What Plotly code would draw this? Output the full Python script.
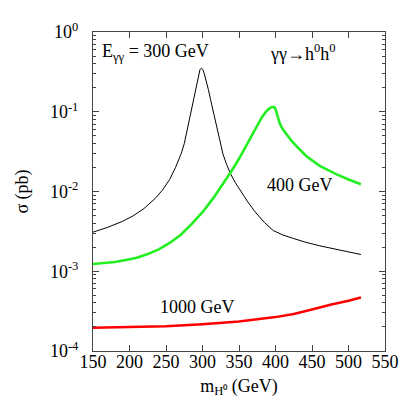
import plotly.graph_objects as go

# values as log10(sigma / pb)
# E_gamma-gamma = 300 GeV (black)
m_300 = [150, 170, 190, 205, 220, 235, 245, 255, 263, 271, 275, 278.5, 283.5, 286.5,
         289.5, 292.5, 294.5, 296.5, 298.5, 300.5, 302.5, 305, 308, 311, 314.5, 318.5,
         323, 328, 333, 338, 345, 353, 362, 372, 385, 397, 410, 425, 440, 460, 480,
         500, 517]
log_sig_300 = [-2.51, -2.45, -2.376, -2.305, -2.212, -2.089, -1.984, -1.85, -1.70,
               -1.52, -1.40, -1.25, -1.03, -0.896, -0.753, -0.612, -0.532, -0.473,
               -0.452, -0.47, -0.525, -0.60, -0.72, -0.845, -0.99, -1.16, -1.35,
               -1.53, -1.66, -1.77, -1.89, -2.01, -2.13, -2.255, -2.39, -2.49, -2.545,
               -2.59, -2.633, -2.68, -2.72, -2.76, -2.79]

# E_gamma-gamma = 400 GeV (green)
m_400 = [150, 165, 180, 195, 210, 225, 240, 255, 270, 285, 300, 315, 328, 340, 350,
         358, 365, 371, 376, 381, 386, 390, 394, 397, 399, 401, 403, 406, 410, 415,
         422, 429, 442, 460, 483, 500, 517]
log_sig_400 = [-2.91, -2.90, -2.885, -2.86, -2.83, -2.785, -2.725, -2.645, -2.545,
               -2.41, -2.26, -2.08, -1.91, -1.74, -1.59, -1.455, -1.33, -1.23, -1.15,
               -1.075, -1.01, -0.97, -0.945, -0.94, -0.95, -0.99, -1.06, -1.15, -1.22,
               -1.285, -1.365, -1.435, -1.555, -1.675, -1.782, -1.85, -1.91]

# E_gamma-gamma = 1000 GeV (red)
m_1000 = [150, 200, 250, 300, 350, 400, 425, 450, 475, 500, 517]
log_sig_1000 = [-3.71, -3.70, -3.69, -3.665, -3.63, -3.575, -3.535, -3.48, -3.42,
                -3.37, -3.33]

y_major = [1e-4, 1e-3, 1e-2, 1e-1, 1]
y_major_text = ["10<sup>-4</sup>", "10<sup>-3</sup>", "10<sup>-2</sup>",
                "10<sup>-1</sup>", "10<sup>0</sup>"]
y_minor = [k * 10.0 ** e for e in range(-4, 0) for k in range(2, 10)]
x_ticks = [150, 200, 250, 300, 350, 400, 450, 500, 550]

font = "Liberation Serif"

fig = go.Figure()
fig.add_scatter(x=m_300, y=[10 ** v for v in log_sig_300], mode="lines",
                line=dict(color="black", width=1), showlegend=False)
fig.add_scatter(x=m_400, y=[10 ** v for v in log_sig_400], mode="lines",
                line=dict(color="#22ee22", width=2.6), showlegend=False)
fig.add_scatter(x=m_1000, y=[10 ** v for v in log_sig_1000], mode="lines",
                line=dict(color="#ff0000", width=2.5), showlegend=False)

# labels
fig.add_annotation(x=160, y=-0.26, text="E<sub>γγ</sub> = 300 GeV", xanchor="left",
                   showarrow=False, font=dict(family=font, size=18))
fig.add_annotation(x=437, y=-0.26, text="γγ→h<sup>0</sup>h<sup>0</sup>",
                   showarrow=False, font=dict(family=font, size=18))
fig.add_annotation(x=433, y=-1.92, text="400 GeV", showarrow=False,
                   font=dict(family=font, size=18))
fig.add_annotation(x=293, y=-3.45, text="1000 GeV", showarrow=False,
                   font=dict(family=font, size=18))

fig.update_layout(
    width=409, height=419,
    margin=dict(l=85, r=32, t=22, b=76),
    plot_bgcolor="white", paper_bgcolor="white",
    font=dict(family=font, size=18, color="black"),
    xaxis=dict(
        range=[150, 550], tickvals=x_ticks,
        ticks="inside", ticklen=6, tickcolor="#444", mirror="ticks",
        showline=True, linecolor="#444", linewidth=1, showgrid=False, zeroline=False,
        ticklabelstandoff=-6, tickfont=dict(family=font, size=18),
        title=dict(text="m<sub>H⁰</sub> (GeV)", standoff=8, font=dict(family=font, size=18)),
    ),
    yaxis=dict(
        type="log", range=[-4, 0],
        tickvals=y_major, ticktext=y_major_text,
        ticks="inside", ticklen=6, tickcolor="#444", mirror="ticks",
        minor=dict(tickvals=y_minor, ticks="inside", ticklen=3, tickcolor="#444"),
        showline=True, linecolor="#444", linewidth=1, showgrid=False, zeroline=False,
        ticklabelstandoff=10, tickfont=dict(family=font, size=18),
        title=dict(text="σ (pb)", standoff=16, font=dict(family=font, size=18)),
    ),
)

fig.write_html("out.html")
